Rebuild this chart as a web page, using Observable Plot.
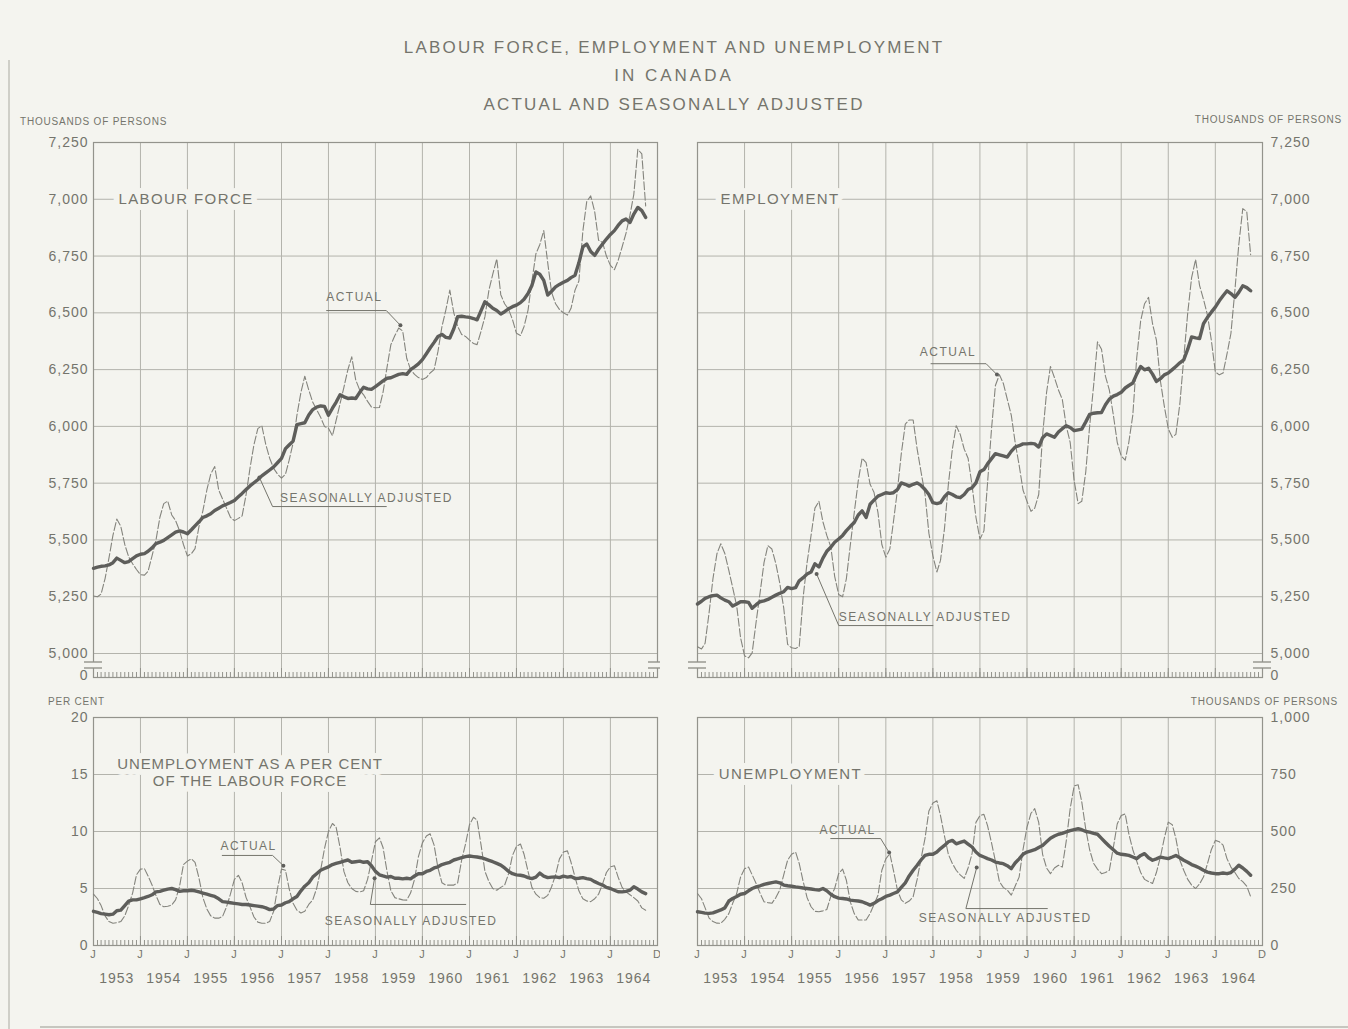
<!DOCTYPE html>
<html>
<head>
<meta charset="utf-8">
<title>Labour force, employment and unemployment in Canada</title>
<script src="https://cdn.jsdelivr.net/npm/d3@7"></script>
<script src="https://cdn.jsdelivr.net/npm/@observablehq/plot@0.6"></script>
<style>
  html, body { margin:0; padding:0; background:#f4f4ef; }
  #page { position:relative; width:1348px; height:1029px; overflow:hidden; background:#f4f4ef;
          font-family:"Liberation Sans", Arial, sans-serif; color:#74746c; }
  .title { position:absolute; left:0; width:1348px; text-align:center; font-size:17px; letter-spacing:2.2px; line-height:20px; z-index:2; }
  .unit { position:absolute; font-size:10px; letter-spacing:0.8px; line-height:12px; white-space:nowrap; z-index:2; }
  .panel { position:absolute; z-index:1; }
  .edge-left { position:absolute; left:8px; top:60px; width:2px; height:969px; background:#cfcfc8; z-index:2; }
  .edge-bottom { position:absolute; left:40px; top:1026px; width:1308px; height:2px; background:#c6c6bf; z-index:2; }
  svg g[aria-label="y-axis tick label"] text { letter-spacing: 1px; }
  svg g[aria-label="x-axis tick label"] text { letter-spacing: 1px; }
  svg g[aria-description="panel-label"] text { letter-spacing: 1.4px; }
  svg g[aria-description="title-label"] text { letter-spacing: 0.9px; }
  svg g[aria-description="note"] text { letter-spacing: 1.5px; }
</style>
</head>
<body>
<div id="page">
  <div class="panel" id="tl" style="left:0px;top:110px"></div>
  <div class="panel" id="tr" style="left:660px;top:110px"></div>
  <div class="panel" id="bl" style="left:0px;top:700px"></div>
  <div class="panel" id="br" style="left:660px;top:700px"></div>
  <div class="edge-left"></div>
  <div class="edge-bottom"></div>
  <div class="title" style="top:38px">LABOUR FORCE, EMPLOYMENT AND UNEMPLOYMENT</div>
  <div class="title" style="top:66px;letter-spacing:3px">IN CANADA</div>
  <div class="title" style="top:95px">ACTUAL AND SEASONALLY ADJUSTED</div>
  <div class="unit" style="left:20px;top:116px">THOUSANDS OF PERSONS</div>
  <div class="unit" style="right:6px;top:114px">THOUSANDS OF PERSONS</div>
  <div class="unit" style="left:48px;top:696px">PER CENT</div>
  <div class="unit" style="right:10px;top:696px">THOUSANDS OF PERSONS</div>
</div>
<script>
// ---------- colours ----------
const BG = "#f4f4ef", GRID = "#b3b3ac", FRAME = "#93938c", INK = "#74746c";
const SA_COLOR = "#5e5e5b", ACT_COLOR = "#84847d";
const FONT = '"Liberation Sans", Arial, sans-serif';

// ---------- time axis ----------
const FIRST_MONTH = new Date(Date.UTC(1953, 0, 1));      // January 1953
const AFTER_LAST_MONTH = new Date(Date.UTC(1964, 10, 1)); // series run to October 1964
const X_DOMAIN = [new Date(Date.UTC(1953, 0, 1)), new Date(Date.UTC(1965, 0, 1))];
const YEARS = [1953, 1954, 1955, 1956, 1957, 1958, 1959, 1960, 1961, 1962, 1963, 1964];

// ---------- tick labels ----------
const LF_TICKS  = [5000, 5250, 5500, 5750, 6000, 6250, 6500, 6750, 7000, 7250];
const EMP_TICKS = [5000, 5250, 5500, 5750, 6000, 6250, 6500, 6750, 7000, 7250];
const UR_TICKS  = [0, 5, 10, 15, 20];
const UE_TICKS  = [0, 250, 500, 750, 1000];

// ---------- series (monthly, Jan 1953 - Oct 1964) ----------
// Labour force, thousands
const LF_SA = [
  5375,5380,5384,5386,5390,5400,5420,5410,5400,5405,5418,5430,
  5437,5440,5450,5465,5484,5490,5498,5510,5522,5534,5540,5535,
  5527,5545,5562,5580,5599,5606,5615,5630,5640,5650,5657,5665,
  5674,5690,5705,5722,5738,5752,5765,5782,5795,5808,5822,5840,
  5859,5902,5918,5935,6008,6012,6016,6050,6074,6085,6090,6088,
  6049,6080,6106,6139,6130,6123,6125,6123,6150,6172,6165,6163,
  6175,6188,6200,6212,6214,6222,6229,6232,6229,6250,6262,6275,
  6294,6320,6345,6370,6396,6405,6392,6389,6430,6483,6485,6482,
  6480,6475,6469,6510,6549,6535,6520,6510,6495,6505,6518,6527,
  6534,6545,6560,6585,6620,6680,6670,6643,6578,6595,6614,6625,
  6635,6643,6655,6665,6720,6790,6803,6770,6753,6780,6803,6825,
  6845,6862,6885,6905,6913,6898,6935,6964,6950,6920
];
const LF_ACT = [
  5253,5250,5262,5330,5420,5520,5592,5560,5480,5426,5395,5370,
  5347,5345,5362,5430,5498,5600,5660,5671,5610,5585,5540,5480,
  5429,5440,5462,5560,5628,5720,5790,5823,5720,5680,5640,5600,
  5585,5595,5606,5700,5815,5920,5990,6003,5920,5860,5815,5790,
  5772,5790,5850,5926,6050,6150,6221,6160,6106,6074,6040,6000,
  5992,5959,6025,6100,6172,6250,6306,6204,6160,6139,6110,6085,
  6082,6083,6150,6260,6360,6400,6433,6420,6300,6250,6229,6215,
  6207,6215,6235,6250,6330,6440,6512,6600,6500,6440,6405,6396,
  6380,6365,6360,6420,6483,6600,6670,6738,6580,6540,6515,6470,
  6410,6400,6440,6512,6640,6760,6800,6862,6720,6590,6540,6515,
  6500,6490,6520,6600,6640,6860,6990,7015,6945,6820,6810,6750,
  6709,6690,6730,6790,6850,6930,7022,7220,7200,6971
];
// Employment, thousands
const EMP_SA = [
  5218,5230,5243,5250,5255,5257,5245,5235,5228,5209,5218,5228,
  5228,5225,5199,5215,5228,5232,5238,5248,5257,5265,5272,5291,
  5286,5290,5320,5334,5350,5359,5395,5381,5420,5450,5468,5490,
  5504,5520,5541,5560,5577,5610,5628,5599,5657,5675,5693,5700,
  5708,5705,5708,5722,5751,5745,5737,5745,5751,5740,5722,5700,
  5664,5660,5664,5690,5708,5700,5690,5686,5700,5722,5730,5751,
  5800,5810,5835,5858,5880,5875,5870,5865,5890,5909,5915,5923,
  5923,5925,5923,5909,5950,5967,5960,5952,5975,5990,6003,5995,
  5981,5985,5988,6020,6053,6058,6060,6061,6095,6120,6133,6140,
  6150,6169,6180,6191,6230,6264,6249,6256,6230,6198,6210,6227,
  6235,6250,6264,6280,6293,6340,6394,6390,6387,6452,6480,6503,
  6525,6553,6575,6597,6585,6568,6590,6619,6611,6597
];
const EMP_ACT = [
  5030,5020,5045,5180,5330,5440,5483,5440,5366,5290,5210,5070,
  4990,4981,5003,5140,5265,5400,5475,5460,5395,5310,5200,5040,
  5025,5022,5030,5250,5400,5520,5640,5670,5580,5520,5470,5340,
  5260,5250,5330,5480,5620,5760,5860,5840,5745,5710,5620,5480,
  5424,5460,5580,5720,5880,6010,6028,6028,5900,5800,5701,5530,
  5430,5359,5410,5550,5744,5900,6003,5965,5900,5860,5740,5600,
  5503,5540,5750,5990,6180,6228,6190,6120,6050,5930,5830,5720,
  5670,5626,5640,5700,5960,6150,6264,6215,6160,6119,6000,5930,
  5760,5660,5670,5800,6000,6180,6372,6340,6220,6160,6050,5930,
  5870,5851,5930,6050,6300,6466,6540,6568,6452,6380,6200,6090,
  5990,5952,5965,6100,6300,6500,6655,6735,6620,6560,6490,6380,
  6240,6227,6235,6320,6409,6600,6800,6959,6945,6756
];
// Unemployment as a per cent of the labour force
const UR_SA = [
  3.0,2.9,2.8,2.75,2.7,2.75,3.05,3.1,3.5,3.9,4.0,4.0,
  4.1,4.2,4.3,4.45,4.7,4.75,4.85,4.95,5.0,4.9,4.75,4.8,
  4.8,4.85,4.8,4.7,4.6,4.5,4.4,4.3,4.1,3.85,3.8,3.75,
  3.7,3.65,3.6,3.6,3.55,3.5,3.45,3.4,3.3,3.15,3.2,3.5,
  3.55,3.75,3.85,4.1,4.3,4.8,5.2,5.5,6.0,6.3,6.6,6.75,
  6.9,7.1,7.2,7.3,7.4,7.5,7.3,7.35,7.4,7.3,7.35,7.0,
  6.5,6.2,6.1,6.0,6.05,5.9,5.9,5.85,5.9,5.85,6.1,6.3,
  6.3,6.5,6.6,6.8,6.9,7.1,7.2,7.3,7.5,7.6,7.7,7.8,
  7.85,7.8,7.76,7.7,7.6,7.47,7.35,7.2,7.05,6.8,6.5,6.3,
  6.2,6.16,6.1,5.95,5.87,6.0,6.35,6.08,5.95,6.0,6.02,5.95,
  6.08,6.0,6.05,5.87,5.9,5.95,5.87,5.8,5.6,5.44,5.3,5.1,
  5.0,4.85,4.71,4.7,4.75,4.85,5.15,4.95,4.7,4.55
];
const UR_ACT = [
  4.5,4.1,3.5,2.6,2.1,1.95,2.0,2.1,2.6,3.5,4.6,6.2,
  6.7,6.74,6.1,5.3,4.4,3.6,3.4,3.45,3.55,4.0,5.2,7.1,
  7.4,7.6,7.3,5.9,4.2,3.2,2.6,2.4,2.4,2.55,3.4,4.5,
  5.8,6.16,5.5,4.2,3.4,2.5,2.05,1.95,1.95,2.1,3.0,5.0,
  6.7,6.6,5.0,3.7,3.1,2.85,3.0,3.6,4.0,5.0,6.6,8.5,
  10.0,10.7,10.4,8.6,6.5,5.5,5.0,4.75,4.7,4.8,5.8,7.4,
  9.1,9.45,8.6,6.5,4.8,4.2,4.1,4.0,3.98,4.6,5.8,7.8,
  9.0,9.6,9.8,8.8,6.8,5.5,5.3,5.3,5.3,5.5,7.5,8.9,
  10.6,11.25,11.0,8.8,6.5,5.6,5.0,4.85,5.1,5.3,6.3,7.9,
  8.7,8.9,8.0,6.5,5.1,4.5,4.2,4.15,4.4,5.15,6.2,7.6,
  8.2,8.3,7.3,6.0,4.8,4.1,3.9,3.85,4.1,4.5,5.4,6.4,
  6.9,7.0,6.0,5.1,4.7,4.45,4.2,3.9,3.3,3.1
];
// Unemployment, thousands
const UE_SA = [
  148,145,142,141,143,150,156,165,195,206,215,225,
  228,240,250,257,262,268,272,276,279,275,265,262,
  260,257,255,252,250,248,245,243,250,240,225,214,
  208,206,204,199,197,195,192,185,177,185,197,205,
  215,221,228,235,255,275,305,330,352,375,395,400,
  400,410,425,439,455,461,446,452,458,445,432,410,
  395,388,381,375,366,362,359,350,337,362,380,400,
  410,415,420,430,439,455,470,480,488,492,498,504,
  508,512,508,500,497,492,488,470,452,435,420,405,
  400,398,395,388,381,395,403,385,374,380,388,384,
  381,388,395,385,374,365,355,348,340,330,322,318,
  315,315,318,315,320,335,352,340,325,308
];
const UE_ACT = [
  228,205,165,120,105,98,97,115,140,185,228,300,
  337,344,310,272,230,192,188,185,210,243,310,374,
  400,410,360,280,210,170,150,148,152,158,215,250,
  315,335,286,190,140,112,112,112,140,180,220,330,
  380,403,330,243,200,185,195,214,290,380,470,590,
  625,635,570,480,400,360,330,310,294,340,403,540,
  570,575,526,450,370,280,255,243,221,260,300,420,
  519,580,600,540,400,340,315,340,352,344,460,600,
  700,705,630,510,420,360,335,315,320,330,430,533,
  570,577,490,420,370,320,290,280,272,320,388,470,
  541,530,470,374,330,290,265,250,270,300,359,420,
  461,455,440,380,344,320,294,280,260,214
];

// ---------- derived helpers ----------
const months = d3.utcMonth.range(FIRST_MONTH, AFTER_LAST_MONTH);
const baselineMonths = d3.utcMonth.range(X_DOMAIN[0], X_DOMAIN[1]);
const januaries = YEARS.map(y => new Date(Date.UTC(y, 0, 1)));
const midYears = YEARS.map(y => new Date(Date.UTC(y, 6, 1)));
const decY = y => new Date(Date.UTC(1953, 0, 1) + (y - 1953) * 365.25 * 864e5);
const pt = (y, v) => ({date: decY(y), v});
const BREAK_GAP = 24;

function drawBreak(svg, x, y) {
  // scale-break symbol "=" across the vertical frame edge
  const g = d3.select(svg).append("g").attr("aria-label", "axis-break");
  g.append("rect").attr("x", x - 3).attr("y", y - 3).attr("width", 6).attr("height", 6).attr("fill", BG);
  for (const dy of [-3, 3]) {
    g.append("line").attr("x1", x - 9).attr("x2", x + 9).attr("y1", y + dy).attr("y2", y + dy)
      .attr("stroke", FRAME).attr("stroke-width", 1.4);
  }
}

function makePanel(p) {
  const fh = p.height - p.mt - p.mb;
  const data = months.map((date, i) => ({date, sa: p.sa[i], act: p.act[i]}));
  const yRange = [p.height - p.mb - (p.broken ? BREAK_GAP : 0), p.mt];
  const left = p.side === "left";
  const marks = [
    Plot.ruleY(p.ticks, {stroke: GRID, strokeWidth: 1}),
    Plot.ruleX(januaries.slice(1), {stroke: GRID, strokeWidth: 1}),
    Plot.ruleX(baselineMonths, {stroke: FRAME, strokeWidth: 1, insetTop: fh - 5}),
    Plot.ruleX(januaries, {stroke: FRAME, strokeWidth: 1, insetTop: fh - 9}),
    Plot.frame({stroke: FRAME, strokeWidth: 1.2}),
    Plot.text(p.labelsStart || [], {x: "date", y: "v", text: "text", textAnchor: "start", fontSize: 15,
      fill: INK, stroke: BG, strokeWidth: 12, ariaDescription: "panel-label"}),
    Plot.text(p.labelsMiddle || [], {x: "date", y: "v", text: "text", textAnchor: "middle", fontSize: 15,
      fill: INK, stroke: BG, strokeWidth: 12, ariaDescription: "title-label"}),
    Plot.line(data, {x: "date", y: "act", stroke: ACT_COLOR, strokeWidth: 1.1, strokeDasharray: "8,2.5"}),
    Plot.line(data, {x: "date", y: "sa", stroke: SA_COLOR, strokeWidth: 3.4, strokeLinejoin: "round"}),
    ...p.leaders.map(l => Plot.line(l, {x: "date", y: "v", stroke: INK, strokeWidth: 1})),
    Plot.dot(p.leaders.map(l => l[l.length - 1]), {x: "date", y: "v", r: 2, fill: SA_COLOR}),
    Plot.text(p.notes, {x: "date", y: "v", text: "text", textAnchor: "start", fontSize: 12, fill: INK, ariaDescription: "note"}),
    Plot.axisY(p.ticks, {anchor: p.side, tickSize: 0, tickPadding: left ? 5 : 8, tickFormat: p.fmt, fontSize: 14}),
  ];
  if (p.broken) {
    marks.push(
      Plot.text(["0"], {frameAnchor: left ? "bottom-left" : "bottom-right", textAnchor: left ? "end" : "start",
        dx: left ? -6 : 8, dy: 2, fontSize: 14, fill: INK})
    );
  } else {
    marks.push(
      Plot.axisX([...januaries, X_DOMAIN[1]], {anchor: "bottom", tickSize: 0, tickPadding: 5, fontSize: 11,
        tickFormat: d => (+d === +X_DOMAIN[1] ? "D" : "J")}),
      Plot.axisX(midYears, {anchor: "bottom", tickSize: 0, tickPadding: 28, fontSize: 14,
        tickFormat: d => String(d.getUTCFullYear())})
    );
  }
  const chart = Plot.plot({
    width: p.width, height: p.height,
    marginLeft: p.ml, marginRight: p.mr, marginTop: p.mt, marginBottom: p.mb,
    style: {background: BG, color: INK, fontFamily: FONT, overflow: "visible"},
    x: {type: "utc", domain: X_DOMAIN, axis: null},
    y: {domain: p.domain, range: yRange, axis: null},
    marks
  });
  if (p.broken) {
    const yb = p.height - p.mb - BREAK_GAP / 2;
    drawBreak(chart, p.ml, yb);
    drawBreak(chart, p.width - p.mr, yb);
  }
  document.getElementById(p.id).appendChild(chart);
}

const fmtComma = d3.format(",");

makePanel({
  id: "tl", width: 670, height: 580, ml: 93, mr: 13, mt: 32, mb: 13, side: "left", broken: true,
  domain: [5000, 7250], ticks: LF_TICKS, fmt: fmtComma, sa: LF_SA, act: LF_ACT,
  labelsStart: [{...pt(1953.53, 7000), text: "LABOUR FORCE"}],
  notes: [{...pt(1957.95, 6567), text: "ACTUAL"}, {...pt(1956.97, 5682), text: "SEASONALLY ADJUSTED"}],
  leaders: [
    [pt(1957.96, 6510), pt(1959.23, 6510), pt(1959.53, 6445)],
    [pt(1959.23, 5647), pt(1956.81, 5647), pt(1956.53, 5775)]
  ]
});
makePanel({
  id: "tr", width: 688, height: 580, ml: 37, mr: 86, mt: 32, mb: 13, side: "right", broken: true,
  domain: [5000, 7250], ticks: EMP_TICKS, fmt: fmtComma, sa: EMP_SA, act: EMP_ACT,
  labelsStart: [{...pt(1953.49, 7000), text: "EMPLOYMENT"}],
  notes: [{...pt(1957.72, 6325), text: "ACTUAL"}, {...pt(1956.0, 5158), text: "SEASONALLY ADJUSTED"}],
  leaders: [
    [pt(1957.96, 6276), pt(1959.13, 6276), pt(1959.36, 6228)],
    [pt(1958.0, 5123), pt(1956.0, 5123), pt(1955.53, 5350)]
  ]
});
makePanel({
  id: "bl", width: 670, height: 300, ml: 93, mr: 13, mt: 17, mb: 55, side: "left", broken: false,
  domain: [0, 20], ticks: UR_TICKS, fmt: d => String(d), sa: UR_SA, act: UR_ACT,
  labelsMiddle: [{...pt(1956.33, 15.9), text: "UNEMPLOYMENT AS A PER CENT"}, {...pt(1956.33, 14.4), text: "OF THE LABOUR FORCE"}],
  notes: [{...pt(1955.70, 8.7), text: "ACTUAL"}, {...pt(1957.92, 2.1), text: "SEASONALLY ADJUSTED"}],
  leaders: [
    [pt(1955.74, 7.9), pt(1956.81, 7.9), pt(1957.04, 7.0)],
    [pt(1960.92, 3.6), pt(1958.89, 3.6), pt(1958.98, 5.9)]
  ]
});
makePanel({
  id: "br", width: 688, height: 300, ml: 37, mr: 86, mt: 17, mb: 55, side: "right", broken: false,
  domain: [0, 1000], ticks: UE_TICKS, fmt: fmtComma, sa: UE_SA, act: UE_ACT,
  labelsStart: [{...pt(1953.45, 750), text: "UNEMPLOYMENT"}],
  notes: [{...pt(1955.59, 504), text: "ACTUAL"}, {...pt(1957.7, 118), text: "SEASONALLY ADJUSTED"}],
  leaders: [
    [pt(1955.83, 469), pt(1956.89, 469), pt(1957.07, 408)],
    [pt(1960.43, 162), pt(1958.7, 162), pt(1958.93, 342)]
  ]
});
</script>
</body>
</html>
